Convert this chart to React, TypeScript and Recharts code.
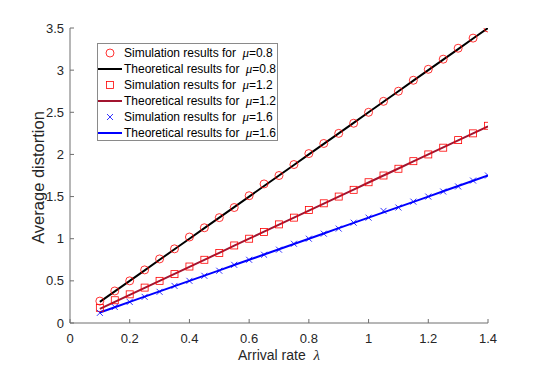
import React from 'react';
import { ComposedChart, Line, Scatter, XAxis, YAxis, Label } from 'recharts';

const arrivalRates = [0.1, 0.15, 0.2, 0.25, 0.3, 0.35, 0.4, 0.45, 0.5, 0.55, 0.6, 0.65, 0.7, 0.75, 0.8, 0.85, 0.9, 0.95, 1.0, 1.05, 1.1, 1.15, 1.2, 1.25, 1.3, 1.35, 1.4];

const sim08 = [0.26, 0.38, 0.5, 0.63, 0.76, 0.88, 1.02, 1.13, 1.25, 1.37, 1.51, 1.65, 1.75, 1.88, 2.01, 2.13, 2.25, 2.37, 2.5, 2.63, 2.75, 2.88, 3.01, 3.13, 3.26, 3.38, 3.5];
const theory08 = [0.25, 0.375, 0.5, 0.625, 0.75, 0.875, 1.0, 1.125, 1.25, 1.375, 1.5, 1.625, 1.75, 1.875, 2.0, 2.125, 2.25, 2.375, 2.5, 2.625, 2.75, 2.875, 3.0, 3.125, 3.25, 3.375, 3.5];

const sim12 = [0.18, 0.27, 0.34, 0.42, 0.5, 0.58, 0.67, 0.75, 0.83, 0.92, 1.0, 1.08, 1.17, 1.25, 1.34, 1.42, 1.5, 1.58, 1.67, 1.75, 1.83, 1.92, 2.0, 2.08, 2.17, 2.25, 2.34];
const theory12 = [0.167, 0.25, 0.333, 0.417, 0.5, 0.583, 0.667, 0.75, 0.833, 0.917, 1.0, 1.083, 1.167, 1.25, 1.333, 1.417, 1.5, 1.583, 1.667, 1.75, 1.833, 1.917, 2.0, 2.083, 2.167, 2.25, 2.333];

const sim16 = [0.12, 0.19, 0.25, 0.31, 0.37, 0.44, 0.5, 0.56, 0.62, 0.69, 0.75, 0.81, 0.87, 0.94, 1.0, 1.06, 1.12, 1.19, 1.25, 1.33, 1.37, 1.44, 1.5, 1.56, 1.62, 1.69, 1.75];
const theory16 = [0.125, 0.1875, 0.25, 0.3125, 0.375, 0.4375, 0.5, 0.5625, 0.625, 0.6875, 0.75, 0.8125, 0.875, 0.9375, 1.0, 1.0625, 1.125, 1.1875, 1.25, 1.3125, 1.375, 1.4375, 1.5, 1.5625, 1.625, 1.6875, 1.75];

const xTicks = [0, 0.2, 0.4, 0.6, 0.8, 1, 1.2, 1.4];
const yTicks = [0, 0.5, 1, 1.5, 2, 2.5, 3, 3.5];

const MU = ['0.8', '1.2', '1.6'];

const data = arrivalRates.map((x, i) => ({
  x,
  sim08: sim08[i],
  th08: theory08[i],
  sim12: sim12[i],
  th12: theory12[i],
  sim16: sim16[i],
  th16: theory16[i],
}));

const FONT = '"Liberation Sans", Arial, Helvetica, sans-serif';
const SERIF = '"Liberation Serif", "Times New Roman", serif';
const AXIS = '#262626';
const RED = '#ff0000';
const DARKRED = '#a2142f';
const BLUE = '#0000ff';

// marker shapes
const Circle = (p: any) => (
  <circle cx={p.cx} cy={p.cy} r={4} fill="none" stroke={RED} strokeWidth={0.8} />
);
const Square = (p: any) => (
  <rect x={p.cx - 3.5} y={p.cy - 3.5} width={7} height={7} fill="none" stroke={RED} strokeWidth={0.8} />
);
const Cross = (p: any) => (
  <path d={`M${p.cx - 3},${p.cy - 3}L${p.cx + 3},${p.cy + 3}M${p.cx - 3},${p.cy + 3}L${p.cx + 3},${p.cy - 3}`} stroke={BLUE} strokeWidth={0.8} />
);

const legendRows = [
  { kind: 'circle', label: 'Simulation results for', mu: MU[0] },
  { kind: 'line', color: '#000000', label: 'Theoretical results for', mu: MU[0] },
  { kind: 'square', label: 'Simulation results for', mu: MU[1] },
  { kind: 'line', color: DARKRED, label: 'Theoretical results for', mu: MU[1] },
  { kind: 'cross', label: 'Simulation results for', mu: MU[2] },
  { kind: 'line', color: BLUE, label: 'Theoretical results for', mu: MU[2] },
];

function LegendBox() {
  return (
    <div
      style={{
        position: 'absolute',
        left: 97,
        top: 43,
        width: 181,
        height: 98,
        boxSizing: 'border-box',
        border: '1px solid #8a8a8a',
        background: '#fff',
        paddingTop: 1,
        fontFamily: FONT,
        fontSize: 12,
        color: '#000',
      }}
    >
      {legendRows.map((r, i) => (
        <div key={i} style={{ height: 16, display: 'flex', alignItems: 'center', whiteSpace: 'nowrap' }}>
          <svg width={26} height={16} style={{ flex: 'none' }}>
            {r.kind === 'line' && <line x1={0} x2={24} y1={8} y2={8} stroke={r.color} strokeWidth={2} />}
            {r.kind === 'circle' && <Circle cx={12} cy={8} />}
            {r.kind === 'square' && <Square cx={12} cy={8} />}
            {r.kind === 'cross' && <Cross cx={12} cy={8} />}
          </svg>
          <span>
            {r.label}{'  '}
            <span style={{ fontFamily: SERIF, fontStyle: 'italic', fontSize: 13, marginLeft: 3 }}>μ</span>
            ={r.mu}
          </span>
        </div>
      ))}
    </div>
  );
}

export default function App() {
  const tick = { fill: AXIS, fontSize: 13, fontFamily: FONT };
  return (
    <div style={{ position: 'absolute', left: 0, top: 0, width: 540, height: 371, background: '#fff' }}>
      <ComposedChart width={540} height={371} data={data} margin={{ top: 28, right: 52, left: 0, bottom: 0 }}>
        <XAxis
          dataKey="x"
          type="number"
          domain={[0, 1.4]}
          ticks={xTicks}
          tickFormatter={(v: number) => String(v)}
          height={48}
          tickSize={-4}
          tickMargin={15}
          stroke="#6e6e6e"
          tick={tick}
          allowDataOverflow
        >
          <Label
            content={(props: any) => {
              const vb = props.viewBox;
              return (
                <text x={vb.x + vb.width / 2} y={vb.y + vb.height - 11} textAnchor="middle" fontFamily={FONT} fontSize={14} fill={AXIS}>
                  Arrival rate{'\u00a0\u00a0'}
                  <tspan fontFamily={SERIF} fontStyle="italic" fontSize={15}>λ</tspan>
                </text>
              );
            }}
          />
        </XAxis>
        <YAxis
          type="number"
          domain={[0, 3.5]}
          ticks={yTicks}
          width={70}
          tickSize={-4}
          tickMargin={10}
          stroke="#6e6e6e"
          tick={tick}
          allowDataOverflow
        >
          <Label
            content={(props: any) => {
              const vb = props.viewBox;
              const cy = vb.y + vb.height / 2 + 2;
              return (
                <text x={44} y={cy} transform={`rotate(-90 44 ${cy})`} textAnchor="middle" fontFamily={FONT} fontSize={16.5} fill={AXIS}>
                  Average distortion
                </text>
              );
            }}
          />
        </YAxis>

        <Scatter dataKey="sim08" shape={<Circle />} isAnimationActive={false} />
        <Line dataKey="th08" stroke="#000000" strokeWidth={2} dot={false} isAnimationActive={false} />
        <Scatter dataKey="sim12" shape={<Square />} isAnimationActive={false} />
        <Line dataKey="th12" stroke={DARKRED} strokeWidth={2} dot={false} isAnimationActive={false} />
        <Scatter dataKey="sim16" shape={<Cross />} isAnimationActive={false} />
        <Line dataKey="th16" stroke={BLUE} strokeWidth={2} dot={false} isAnimationActive={false} />
      </ComposedChart>
      <LegendBox />
    </div>
  );
}
